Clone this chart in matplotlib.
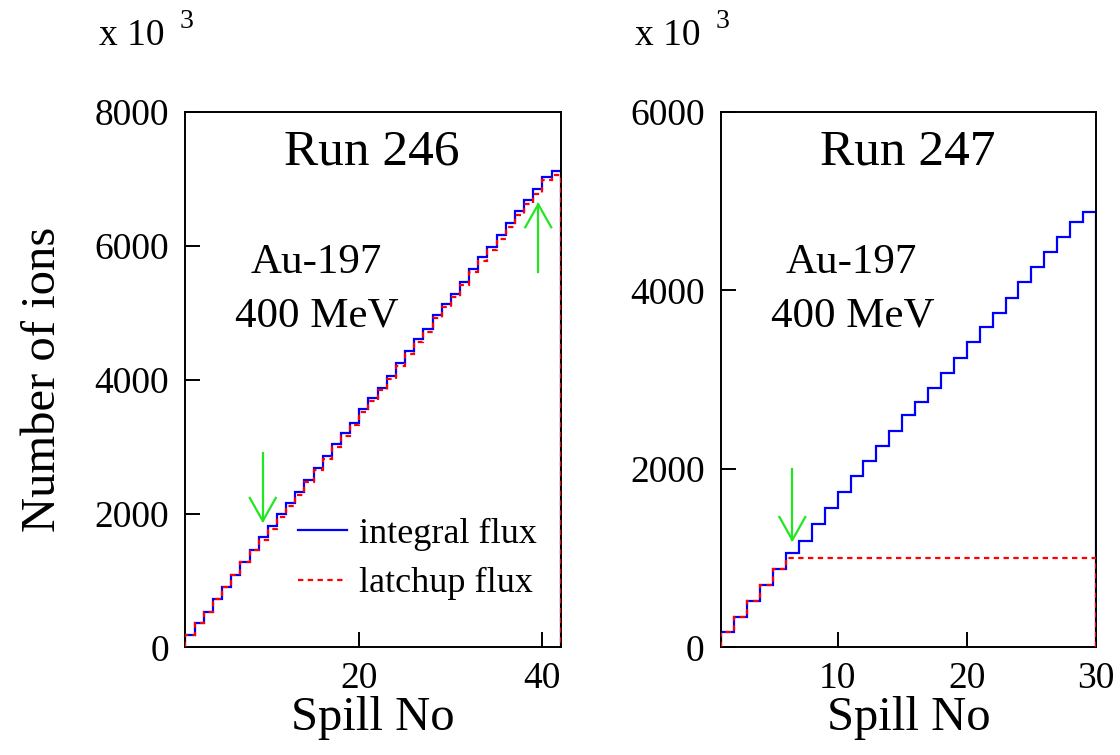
import sys
import numpy as np
import matplotlib
matplotlib.use('Agg')
import matplotlib.pyplot as plt

#--------------------------------
#  Data (units of 10^3 ions)
#--------------------------------

spill_246 = list(range(1, 43))   # bin edges 1..42
integral_246 = [191, 370, 535, 720, 904, 1083, 1273, 1461, 1651, 1815,
                1990, 2154, 2323, 2502, 2686, 2856, 3036, 3200, 3359, 3559,
                3725, 3882, 4061, 4246, 4434, 4614, 4763, 4972, 5127, 5281,
                5465, 5655, 5830, 5988, 6158, 6337, 6521, 6686, 6850, 7030,
                7122]
latchup_246 = [191, 370, 535, 720, 904, 1083, 1273, 1461, 1606, 1775,
               1955, 2120, 2285, 2465, 2645, 2815, 2995, 3160, 3318, 3518,
               3683, 3840, 4018, 4203, 4390, 4570, 4718, 4925, 5080, 5233,
               5415, 5603, 5778, 5932, 6100, 6278, 6460, 6630, 6780, 6985,
               7060]

spill_247 = list(range(1, 31))   # bin edges 1..30
integral_247 = [174, 342, 521, 700, 879, 1058, 1193, 1383, 1562, 1742,
                1921, 2089, 2257, 2425, 2604, 2750, 2906, 3074, 3242, 3422,
                3590, 3746, 3914, 4094, 4262, 4433, 4594, 4769, 4881]
latchup_247 = [174, 342, 521, 700, 879, 1000, 1000, 1000, 1000, 1000,
               1000, 1000, 1000, 1000, 1000, 1000, 1000, 1000, 1000, 1000,
               1000, 1000, 1000, 1000, 1000, 1000, 1000, 1000, 1000]

# arrows: (x, y_start, y_end)
arrows_246 = [(9.45, 2906, 1890), (39.55, 5613, 6621)]
arrows_247 = [(6.5, 2005, 1204)]

FONT = 'Liberation Serif'
GREEN = '#22e622'

#--------------------------------

def drawArrow(ax, x, y0, y1, xwid, yhead) :
    ax.plot([x, x], [y0, y1], color=GREEN, lw=1.6, zorder=4)
    d = yhead if y1 > y0 else -yhead
    ax.plot([x - xwid, x, x + xwid], [y1 - d, y1, y1 - d], color=GREEN, lw=1.6, zorder=4)

#--------------------------------

def styleAxes(ax, xlim, ylim, xticks, yticks, xlabels) :
    ax.set_xlim(*xlim)
    ax.set_ylim(*ylim)
    ax.set_xticks(xticks)
    ax.set_xticklabels(xlabels)
    ax.set_yticks(yticks)
    ax.tick_params(direction='in', length=11, width=1.4, labelsize=27,
                   top=False, right=False, pad=12)
    ax.tick_params(axis='x', pad=10)
    for lab in ax.get_xticklabels() + ax.get_yticklabels() :
        lab.set_fontfamily(FONT)
    for sp in ax.spines.values() :
        sp.set_linewidth(1.4)
    ax.set_xlabel('Spill No', fontsize=35, fontfamily=FONT, labelpad=0)

#--------------------------------

def plotPanel(ax, edges, integ, latch, arrows, run, ymax, xticks, xlabels, xwid, yhead) :
    ax.stairs(integ, edges, baseline=0, color='#0000ff', lw=1.6, label='integral flux', zorder=2)
    ax.stairs(latch, edges, baseline=0, color='#ff0000', lw=1.6,
              linestyle=(0, (2.4, 2.0)), label='latchup flux', zorder=3)
    for (x, y0, y1) in arrows :
        drawArrow(ax, x, y0, y1, xwid, yhead)
    styleAxes(ax, (edges[0], edges[-1]), (0, ymax), xticks,
              list(range(0, ymax + 1, 2000)), xlabels)
    ax.text(0.497, 0.901, run, transform=ax.transAxes, ha='center', va='baseline',
            fontsize=37, fontfamily=FONT)
    ax.text(0.348, 0.699, 'Au-197', transform=ax.transAxes, ha='center', va='baseline',
            fontsize=31, fontfamily=FONT)
    ax.text(0.350, 0.600, '400 MeV', transform=ax.transAxes, ha='center', va='baseline',
            fontsize=31, fontfamily=FONT)

#--------------------------------

def main() :
    fig = plt.figure(figsize=(11.2, 7.55), dpi=100, facecolor='w')
    ax1 = fig.add_axes([0.1656, 0.1424, 0.3350, 0.7093])
    ax2 = fig.add_axes([0.6440, 0.1424, 0.3346, 0.7093])

    plotPanel(ax1, spill_246, integral_246, latchup_246, arrows_246, 'Run 246', 8000,
              [20, 40], ['20', '40'], 1.42, 344)
    plotPanel(ax2, spill_247, integral_247, latchup_247, arrows_247, 'Run 247', 6000,
              [10, 20, 30], ['10', '20', '30'], 1.0, 258)

    ax1.set_ylabel('Number of ions', fontsize=35, fontfamily=FONT, labelpad=21)
    leg = ax1.legend(loc='upper left', bbox_to_anchor=(0.30, 0.243), frameon=False,
                     prop={'family': FONT, 'size': 26}, handlelength=1.35,
                     handletextpad=0.35, labelspacing=0.45, borderpad=0, borderaxespad=0)

    for x0 in (99, 635) :
        fig.text(x0 / 1120., 1 - 45 / 755., 'x 10', fontsize=27, fontfamily=FONT,
                 ha='left', va='baseline')
        fig.text((x0 + 81) / 1120., 1 - 28 / 755., '3', fontsize=20, fontfamily=FONT,
                 ha='left', va='baseline')

    fig.savefig('out.png', dpi=100, facecolor='w')

#--------------------------------

if __name__ == "__main__" :
    main()
